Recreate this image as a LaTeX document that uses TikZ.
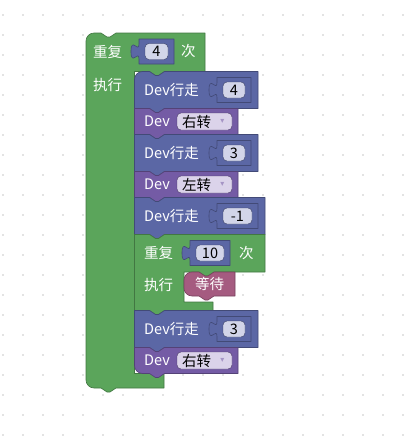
\documentclass[tikz,border=0pt]{standalone}
\usepackage{fontspec}
\setmainfont{Noto Sans CJK SC}
\newfontfamily\arrowfont{DejaVu Sans}
\usepackage{tikz}
\usetikzlibrary{positioning}

\definecolor{loopgreen}{HTML}{5BA55B}
\definecolor{walkblue}{HTML}{5B67A5}
\definecolor{turnpurple}{HTML}{745BA5}
\definecolor{waitpink}{HTML}{A55B80}
\definecolor{numfield}{HTML}{D2D5E9}
\definecolor{dropfield}{HTML}{DBD3EA}
\definecolor{griddot}{HTML}{C8C8C8}

\begin{document}
\begin{tikzpicture}[x=1pt, y=-1pt,
  block/.style={line width=0.6pt, line join=round},
  loopblock/.style={block, fill=loopgreen, draw=loopgreen!72!black},
  walkblock/.style={block, fill=walkblue, draw=walkblue!72!black},
  turnblock/.style={block, fill=turnpurple, draw=turnpurple!72!black},
  waitblock/.style={block, fill=waitpink, draw=waitpink!72!black},
  numbox/.style={fill=numfield, draw=walkblue!60!black, line width=0.4pt, rounded corners=4pt},
  dropbox/.style={fill=dropfield, draw=turnpurple!60!black, line width=0.4pt, rounded corners=4pt},
  blocktext/.style={text=white, anchor=west, inner sep=0pt, font=\fontsize{14.5}{16}\selectfont},
  fieldtext/.style={text=black, inner sep=0pt, font=\fontsize{14.5}{16}\selectfont},
]
\useasboundingbox (0,0) rectangle (410,440);
\fill[white] (0,0) rectangle (410,440);

% Workspace grid
\foreach \gx in {3,23,...,403}
  \foreach \gy in {15,35,...,435}
    \fill[griddot] (\gx,\gy) circle[radius=0.9];

% Outer repeat block
\draw[loopblock] (86,41) arc[start angle=180, end angle=270, radius=8] -- (101,33)
  -- ++(6,4) -- ++(3,0) -- ++(6,-4) -- (205,33) -- (205,71.5) -- (164.5,71.5)
  -- ++(-6,4) -- ++(-3,0) -- ++(-6,-4) -- (134.5,71.5) -- (134.5,373.5) -- (164,373.5)
  -- (164,388) -- (116,388) -- ++(-6,4) -- ++(-3,0) -- ++(-6,-4) -- (94,388)
  arc[start angle=90, end angle=180, radius=8] -- cycle;

% First walk block
\draw[walkblock] (134.5,79.5) arc[start angle=180, end angle=270, radius=8] -- (149.5,71.5)
  -- ++(6,4) -- ++(3,0) -- ++(6,-4) -- (258,71.5) -- (258,108.5) -- (164.5,108.5)
  -- ++(-6,4) -- ++(-3,0) -- ++(-6,-4) -- (134.5,108.5) -- cycle;

% Stacked blocks
\foreach \top/\bot/\right/\col in {108.5/134.5/238/turnpurple, 134.5/171.5/258/walkblue,
    171.5/197.5/238/turnpurple, 197.5/234.5/265/walkblue}
  \draw[block, fill=\col, draw=\col!72!black] (134.5,\top) -- (149.5,\top)
    -- ++(6,4) -- ++(3,0) -- ++(6,-4) -- (\right,\top) -- (\right,\bot) -- (164.5,\bot)
    -- ++(-6,4) -- ++(-3,0) -- ++(-6,-4) -- (134.5,\bot) -- cycle;

% Inner repeat block
\draw[loopblock] (134.5,234.5) -- (149.5,234.5) -- ++(6,4) -- ++(3,0) -- ++(6,-4)
  -- (265,234.5) -- (265,272) -- (214,272) -- ++(-6,4) -- ++(-3,0) -- ++(-6,-4)
  -- (184,272) -- (184,302) -- (213,302) -- (213,310.5) -- (164.5,310.5)
  -- ++(-6,4) -- ++(-3,0) -- ++(-6,-4) -- (134.5,310.5) -- cycle;

% Wait block
\draw[waitblock] (184,280) arc[start angle=180, end angle=270, radius=8] -- (199,272)
  -- ++(6,4) -- ++(3,0) -- ++(6,-4) -- (235,272) -- (235,296) -- (214,296)
  -- ++(-6,4) -- ++(-3,0) -- ++(-6,-4) -- (192,296)
  arc[start angle=90, end angle=180, radius=8] -- cycle;

% Last two blocks
\draw[walkblock] (134.5,310.5) -- (149.5,310.5) -- ++(6,4) -- ++(3,0) -- ++(6,-4)
  -- (258,310.5) -- (258,347.5) -- (164.5,347.5) -- ++(-6,4) -- ++(-3,0) -- ++(-6,-4)
  -- (134.5,347.5) -- cycle;
\draw[turnblock] (134.5,347.5) -- (149.5,347.5) -- ++(6,4) -- ++(3,0) -- ++(6,-4)
  -- (238,347.5) -- (238,373.5) -- (164.5,373.5) -- ++(-6,4) -- ++(-3,0) -- ++(-6,-4)
  -- (142.5,373.5) arc[start angle=90, end angle=180, radius=8] -- cycle;

% Number inputs
\foreach \x/\cy/\w/\val/\name in {139/51.5/35/4/outer, 217/90/34/4/walka, 217/153/34/3/walkb,
    217/216/41/-1/walkc, 190/253/40/10/inner, 217/329/34/3/walkd} {
  \pgfmathsetmacro\t{\cy-12.5}
  \draw[block, fill=walkblue, draw=walkblue!72!black] (\x,\t) -- ++(\w,0) -- ++(0,25)
    -- ({\x},{\t+25}) -- ({\x},{\t+20}) .. controls ({\x},{\t+10}) and ({\x-8},{\t+28}) .. ({\x-8},{\t+12.5})
    .. controls ({\x-8},{\t-3}) and ({\x},{\t+15}) .. ({\x},{\t+5}) -- cycle;
  \draw[numbox] ({\x+6},{\cy-8}) rectangle ({\x+\w-6},{\cy+8});
  \node[fieldtext] (num-\name) at ({\x+\w/2},\cy) {\val};
}

% Dropdowns
\foreach \cy/\dir/\name in {121.5/右转/a, 184.5/左转/b, 360.5/右转/c} {
  \draw[dropbox] (177,{\cy-8.5}) rectangle (232,{\cy+8.5});
  \node[fieldtext, anchor=west] (dir-\name) at (182,\cy) {\dir};
  \node[inner sep=0pt, text=turnpurple!65!white, font=\arrowfont\fontsize{8}{9}\selectfont]
    (arrow-\name) at (222.5,\cy) {▾};
  \node[blocktext] (dev-\name) at (144,\cy) {Dev};
}

% Labels
\node[blocktext] (rep-outer) at (93,51.5) {重复};
\node[blocktext] (times-outer) at (181,51.5) {次};
\node[blocktext] (do-outer) at (93,85) {执行};
\foreach \cy/\name in {90/a, 153/b, 216/c, 329/d}
  \node[blocktext] (walk-\name) at (144,\cy) {Dev行走};
\node[blocktext] (rep-inner) at (144,253) {重复};
\node[blocktext] (times-inner) at (239,253) {次};
\node[blocktext] (do-inner) at (144,285) {执行};
\node[blocktext] (wait) at (195,284) {等待};
\end{tikzpicture}
\end{document}
